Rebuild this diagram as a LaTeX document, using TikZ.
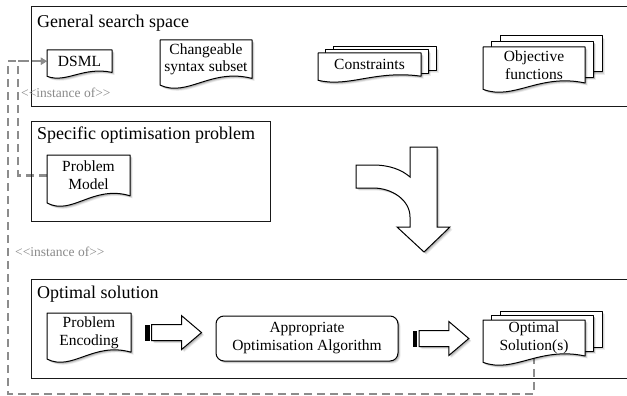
\documentclass[tikz,border=0pt]{standalone}
\usepackage{fontspec}
\setmainfont{Liberation Serif}
\usetikzlibrary{calc,arrows.meta,shadows}

\definecolor{linkgray}{HTML}{8C8C8C}
\definecolor{labelgray}{HTML}{8A8A8A}

\pgfdeclarelayer{bg}
\pgfdeclarelayer{links}
\pgfsetlayers{bg,links,main}

% Document page with a wavy lower edge: name, x1, y1, x2, lowest y, text
\newcommand\docshape[6]{%
  \draw[docline] (#2,#3) -- (#4,#3) -- (#4,{#5-0.2*(#5-#3)})
    .. controls ({#2+0.55*(#4-#2)},{#5-0.42*(#5-#3)}) and ({#2+0.3*(#4-#2)},{#5+0.2*(#5-#3)})
    .. (#2,{#5-0.06*(#5-#3)}) -- cycle;
  \node[doctext, minimum width={(#4-#2)*1pt}, minimum height={0.8*(#5-#3)*1pt}]
    (#1) at ({(#2+#4)/2},{#3+0.4*(#5-#3)}) {#6};
}
% Stack of pages: name, x1, y1, x2, lowest y, page dx, page dy, text
\newcommand\multidoc[8]{%
  \draw[docline] ({#2+2*#6},{#3-2*#7}) rectangle ({#4+2*#6},{#5-0.2*(#5-#3)-2*#7});
  \draw[docline] ({#2+#6},{#3-#7}) rectangle ({#4+#6},{#5-0.2*(#5-#3)-#7});
  \docshape{#1}{#2}{#3}{#4}{#5}{#8}%
}
% Block arrow with a striped tail, between two points
\newcommand\stripedarrow[2]{%
  \draw[blockarrow] let \p1=(#1), \p2=(#2) in
    (\x1+6.5pt,\y1-8pt) -- (\x2-20pt,\y1-8pt) -- (\x2-20pt,\y1-17pt) -- (\x2,\y1)
    -- (\x2-20pt,\y1+17pt) -- (\x2-20pt,\y1+8pt) -- (\x1+6.5pt,\y1+8pt) -- cycle;
  \fill[black] let \p1=(#1) in (\x1,\y1-8pt) rectangle (\x1+4.5pt,\y1+8pt);
}

\begin{document}
\begin{tikzpicture}[x=1pt,y=-1pt,
  softshadow/.style={
      drop shadow={shadow xshift=2.6pt, shadow yshift=-2.6pt, fill=black, opacity=0.07},
      drop shadow={shadow xshift=1.9pt, shadow yshift=-1.9pt, fill=black, opacity=0.10},
      drop shadow={shadow xshift=1.2pt, shadow yshift=-1.2pt, fill=black, opacity=0.14}},
  frame/.style={draw=black!90, line width=1pt},
  boxtitle/.style={anchor=base west, inner sep=0pt, font=\fontsize{18}{21}\selectfont},
  docline/.style={draw=black, line width=1pt, fill=white, line join=round, softshadow},
  doctext/.style={inner sep=0pt, align=center, font=\fontsize{15.5}{17.5}\selectfont},
  algbox/.style={draw=black, line width=1pt, fill=white, rounded corners=8pt,
      minimum width=182pt, minimum height=45pt, align=center, softshadow,
      font=\fontsize{15.5}{18}\selectfont},
  blockarrow/.style={draw=black, line width=1pt, fill=white, line join=miter, softshadow},
  link/.style={draw=linkgray, line width=2.4pt, dash pattern=on 8pt off 5pt},
  linktip/.style={-{Triangle[length=6pt,width=7pt]}},
  stereo/.style={text=labelgray, inner sep=0pt, anchor=base west,
      font=\fontsize{13.5}{15}\selectfont},
]
\useasboundingbox (0,0) rectangle (627,396);
\begin{pgfonlayer}{bg}
  \fill[white] (0,0) rectangle (627,396);
\end{pgfonlayer}

\begin{scope}
\clip (0,0) rectangle (627,396);

% Frames
\draw[frame] (31,7) rectangle (650,107);
\draw[frame] (31,121) rectangle (270,221);
\draw[frame] (31,279) rectangle (650,378);

\node[boxtitle] (t1) at (37,27.3) {General search space};
\node[boxtitle] (t2) at (37,139.3) {Specific optimisation problem};
\node[boxtitle] (t3) at (37,298) {Optimal solution};

% General search space
\docshape{dsml}{47}{50}{112}{78}{DSML}
\docshape{css}{160}{40}{252}{88}{Changeable\\syntax subset}
\multidoc{cons}{318}{53}{421}{82}{7.5}{3}{Constraints}
\multidoc{objf}{483}{47}{585}{92}{8.5}{5.5}{Objective\\functions}

% Specific optimisation problem
\docshape{pmodel}{47}{155}{130}{206}{Problem\\Model}

% Optimal solution
\docshape{penc}{47}{313}{131}{362}{Problem\\Encoding}
\node[algbox] (alg) at (307,338.5) {Appropriate\\Optimisation Algorithm};
\multidoc{osol}{483}{320}{585}{365}{8.5}{4.5}{Optimal\\Solution(s)}

\stripedarrow{$(penc.east)+(14,0)$}{$(alg.west)+(-14,0)$}
\stripedarrow{$(alg.east)+(14,0)$}{$(osol.west)+(-14,0)$}

% Merging arrow between the levels
\draw[blockarrow] (356,165) -- (373,165) .. controls (390,165) and (402,170) .. (410,177)
  -- (410,147) -- (437,147) -- (437,227) -- (450,227) -- (424,252) -- (397,227)
  -- (410,227) -- (410,217) .. controls (410,200) and (392,188) .. (373,188)
  -- (356,188) -- cycle;

% Instance-of links
\coordinate (leftrail) at (8,0);
\coordinate (innerrail) at (18,0);
\coordinate (floor) at (0,394);
\begin{pgfonlayer}{links}
  \draw[link,linktip] (osol.south) -- (osol.south |- floor) -| (leftrail |- dsml.west) -- (dsml.west);
  \draw[link,linktip] (pmodel.west) -- (pmodel.west -| innerrail) |- (dsml.west);
\end{pgfonlayer}
\node[stereo] (inst1) at (21,97) {<\kern0pt<instance of>\kern0pt>};
\node[stereo] (inst2) at (15,256) {<\kern0pt<instance of>\kern0pt>};
\end{scope}
\end{tikzpicture}
\end{document}
